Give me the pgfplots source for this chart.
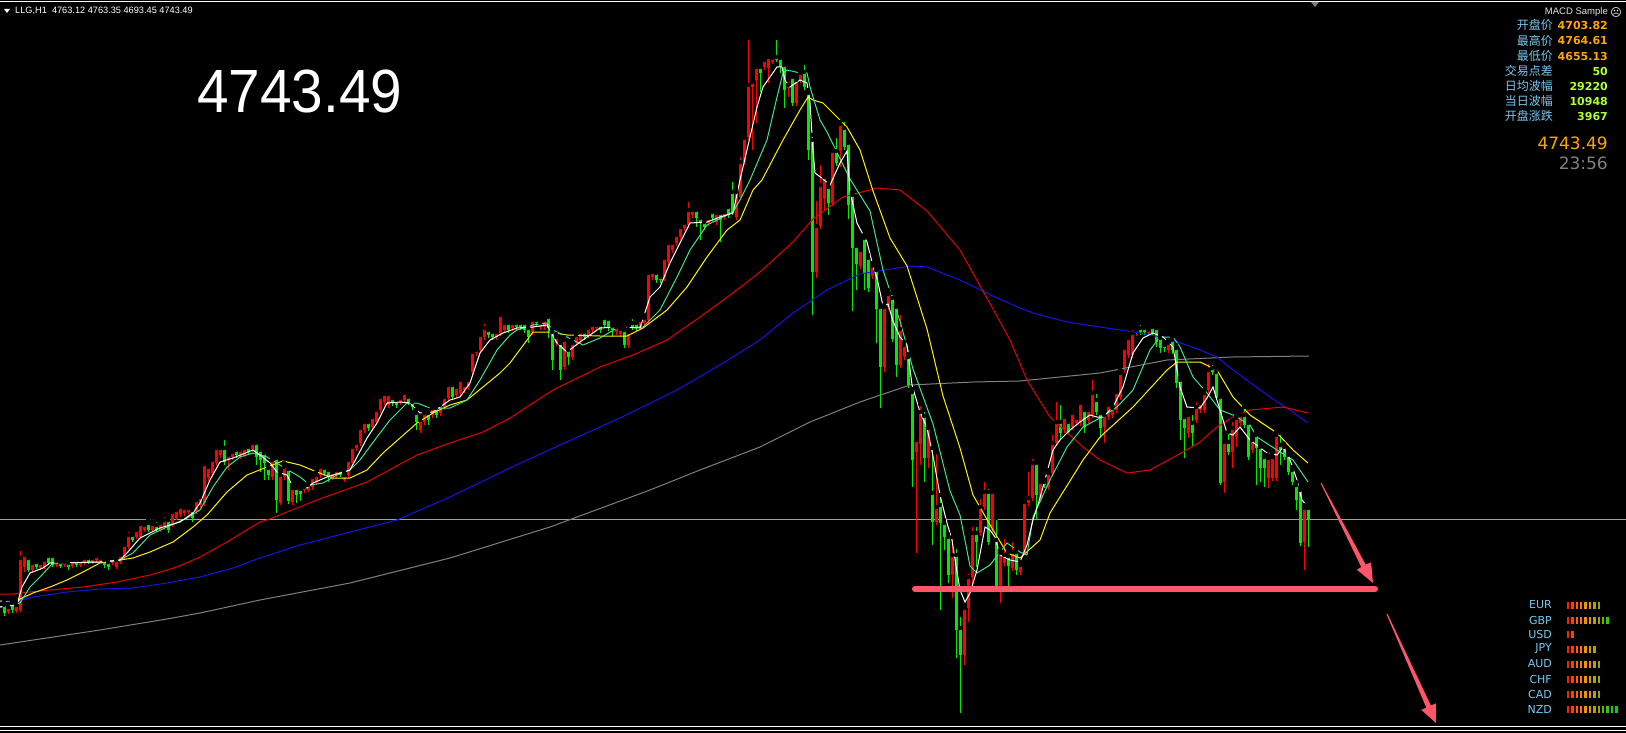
\documentclass[border=0pt]{standalone}
\usepackage{pgfplots}
\pgfplotsset{compat=1.18}
\usepackage{pgfplotstable}
\usepackage{fontspec}
\setmainfont{Liberation Sans}
\newfontfamily\cjk{Noto Sans CJK SC}
\newfontfamily\dv{DejaVu Sans}

\definecolor{cup}{RGB}{255,0,0}
\definecolor{cdn}{RGB}{0,235,0}
\definecolor{magreen}{RGB}{60,230,140}
\definecolor{mared}{RGB}{230,0,0}
\definecolor{mablue}{RGB}{20,20,230}
\definecolor{magray}{RGB}{128,128,128}
\definecolor{bidgray}{RGB}{160,160,160}
\definecolor{pinkline}{RGB}{255,85,105}
\definecolor{lblue}{RGB}{120,200,240}
\definecolor{vorange}{RGB}{255,165,0}
\definecolor{vgreen}{RGB}{173,255,47}

\pgfplotsset{
  colormap={strength}{rgb255=(255,30,0) rgb255=(255,90,0) rgb255=(255,140,0) rgb255=(200,160,0) rgb255=(130,175,0) rgb255=(50,200,0) rgb255=(0,215,0)},
  candle/.style 2 args={only marks, mark=none, forget plot,
    error bars/.cd, y dir=plus, y explicit, error mark=none,
    error bar style={line width=#2, draw=#1}},
}

% candles in screen pixels: x, wick top, body top, body bottom, wick bottom
% rising candles (red)
\pgfplotstableread{
x h bt bb l
8 604 607 612 614
16 602 605 611 613
20 549 558 610 612
24 552 555 567 572
32 560 563 570 573
40 561 563 568 570
44 557 560 567 569
56 559 561 565 567
64 560 562 565 567
72 557 560 566 568
80 558 560 565 567
84 556 558 563 565
92 555 558 562 564
96 554 556 560 562
100 556 558 561 563
112 556 558 563 565
116 557 560 567 569
120 552 555 562 564
124 541 545 557 560
128 530 535 547 549
136 527 530 537 539
140 522 524 537 539
144 522 525 530 532
152 521 524 530 532
160 520 523 530 532
164 515 520 527 530
172 509 512 525 527
176 507 510 518 520
180 504 507 515 517
184 505 508 513 516
188 505 508 512 514
196 497 500 512 514
200 494 497 505 508
204 460 464 503 506
208 464 467 478 481
212 457 460 473 476
216 445 448 463 466
220 446 448 455 458
228 452 455 460 470
232 449 452 457 460
240 447 450 457 459
244 445 448 455 457
252 440 443 449 452
272 457 460 477 480
280 472 475 503 505
284 463 467 477 480
292 485 488 502 505
304 485 487 490 493
308 483 485 490 492
312 474 477 487 490
316 472 475 482 485
320 464 467 475 478
332 469 472 477 480
336 467 470 475 478
344 472 475 480 482
348 457 460 475 478
352 444 447 463 466
356 440 443 448 451
360 425 428 443 446
364 419 422 430 433
372 414 417 427 430
376 407 410 422 424
380 394 397 410 413
384 391 394 402 405
388 391 394 405 408
400 395 398 402 405
404 390 393 400 403
420 417 420 430 433
424 410 413 422 425
432 405 408 415 418
440 402 405 413 416
444 394 397 407 410
448 382 385 398 401
456 384 387 395 398
460 377 380 393 396
464 382 385 390 393
468 377 380 387 390
472 349 352 372 375
476 347 350 353 356
480 332 335 350 353
484 322 328 337 340
496 329 332 337 340
500 312 315 333 336
504 320 323 330 333
512 320 323 328 331
532 317 320 332 335
540 320 323 327 330
544 317 320 327 330
556 334 337 343 346
564 337 340 367 370
572 340 343 357 360
576 332 335 343 346
580 329 332 340 343
588 325 328 335 338
592 322 325 330 333
596 322 325 328 331
616 324 327 332 335
620 326 329 334 337
628 329 332 345 348
640 317 320 327 330
644 315 318 323 326
648 270 273 320 323
652 268 272 277 280
664 255 258 278 281
668 240 243 262 265
672 240 243 250 253
676 232 235 243 246
680 224 227 237 240
684 220 223 228 231
688 200 210 225 228
692 207 210 215 218
708 215 218 223 226
716 210 213 222 225
724 209 212 217 220
736 189 192 217 220
740 155 162 197 200
744 135 138 162 165
748 38 85 137 140
752 79 82 87 150
756 63 67 80 123
764 57 60 67 70
768 54 57 68 83
772 55 58 62 64
788 80 85 88 97
796 77 80 103 106
800 70 73 80 83
816 199 226 272 278
820 163 185 226 229
824 174 177 199 211
832 148 151 203 206
840 122 124 151 167
860 247 250 266 269
872 263 266 276 279
884 305 307 367 372
888 290 294 307 310
900 313 329 365 368
904 342 345 357 360
916 437 440 452 553
920 404 412 444 465
928 425 428 458 468
936 452 507 522 525
952 537 555 575 598
964 605 608 655 665
968 572 577 608 622
972 525 533 577 587
980 497 507 533 536
984 480 492 507 510
992 489 492 530 533
1000 550 553 587 603
1004 537 555 563 566
1012 540 552 568 571
1020 562 565 572 575
1024 499 502 552 555
1028 470 498 503 506
1032 457 463 498 501
1040 479 482 498 501
1048 470 473 487 490
1052 433 443 473 476
1056 400 422 443 446
1064 414 417 430 433
1072 410 413 427 430
1076 415 418 423 426
1080 400 403 423 426
1088 407 410 420 423
1092 378 393 415 418
1104 412 415 427 443
1108 402 405 417 420
1112 405 408 415 418
1116 389 392 410 413
1120 370 373 397 400
1124 345 348 370 373
1128 335 338 355 358
1132 328 333 355 358
1136 327 330 333 336
1148 327 330 333 336
1168 340 343 350 353
1188 412 415 433 438
1196 400 407 420 423
1200 400 403 410 413
1204 390 393 410 413
1208 362 370 390 393
1224 439 442 482 493
1232 420 428 452 468
1236 415 418 437 447
1240 412 415 423 426
1252 437 440 450 453
1268 455 458 478 488
1272 454 457 478 481
1276 432 435 478 481
1304 505 508 542 570
}\upT

% falling candles (green)
\pgfplotstableread{
x h bt bb l
4 602 605 613 616
12 600 603 610 613
28 556 558 570 572
36 559 562 567 569
48 554 556 563 565
52 553 556 565 567
60 560 562 566 568
68 561 563 567 570
76 558 560 565 567
88 556 558 562 564
104 558 560 565 568
108 560 562 567 570
132 531 535 540 542
148 520 523 530 532
156 520 525 530 532
168 517 520 530 533
192 507 510 518 522
224 438 448 462 465
236 448 450 455 458
248 444 447 452 455
256 441 443 457 465
260 447 450 460 472
264 450 453 463 480
268 465 468 475 480
276 455 458 500 513
288 466 469 501 504
296 486 488 495 503
300 487 489 494 501
324 466 468 473 476
328 468 470 477 482
340 468 470 475 477
368 419 422 428 431
392 395 398 403 406
396 397 400 405 408
408 394 397 402 405
412 399 402 407 410
416 410 413 422 430
428 410 413 420 425
436 405 408 415 418
452 382 385 397 400
488 327 330 335 338
492 329 332 337 340
508 320 323 330 333
516 320 323 327 330
520 320 323 327 330
524 320 323 330 333
528 325 328 337 343
536 317 320 323 326
548 314 317 328 338
552 329 332 360 370
560 340 343 370 380
568 347 350 357 365
584 329 332 337 340
600 322 325 330 333
604 315 318 325 328
608 316 319 328 331
612 323 326 330 337
624 327 330 345 348
632 317 323 327 330
636 320 323 328 331
656 270 273 280 283
660 274 277 280 283
696 207 210 218 227
700 215 218 223 240
704 219 222 227 230
712 209 212 218 221
720 210 213 220 242
728 204 207 215 218
732 180 192 212 215
760 64 67 73 92
776 38 57 60 62
780 55 58 67 73
784 62 65 90 108
792 74 77 103 106
804 63 72 87 90
808 90 93 150 160
812 135 140 272 315
828 184 187 203 215
836 136 151 163 166
844 120 128 147 150
848 140 143 205 219
852 192 195 248 311
856 243 246 264 290
864 235 238 274 290
868 255 258 288 292
876 267 270 309 343
880 304 307 367 408
892 293 298 339 342
896 304 307 365 377
908 354 357 385 388
912 389 392 460 487
924 410 416 458 482
932 448 493 522 545
940 495 505 523 610
944 520 523 537 550
948 534 537 575 583
956 547 555 630 658
960 615 628 655 713
976 525 533 542 567
988 487 492 542 545
996 518 540 587 590
1008 552 556 566 587
1016 549 552 570 575
1036 460 463 495 520
1044 479 482 485 488
1060 403 422 433 440
1068 419 422 432 435
1084 407 410 427 433
1096 392 400 412 415
1100 410 413 428 438
1140 323 328 332 335
1144 325 328 332 335
1152 323 327 333 336
1156 325 328 342 347
1160 335 338 348 353
1164 342 345 348 352
1172 337 340 350 354
1176 345 348 383 388
1180 377 380 420 440
1184 414 417 428 458
1192 413 423 433 447
1212 363 368 372 375
1216 368 372 398 400
1220 394 397 483 485
1228 432 442 452 455
1244 407 415 425 428
1248 420 423 457 460
1256 432 435 448 485
1260 444 447 468 482
1264 454 457 468 487
1280 433 445 450 465
1284 444 447 457 460
1288 452 455 472 475
1292 467 470 482 485
1296 482 485 500 510
1300 487 490 543 546
1308 505 508 520 547
}\dnT

% currency strength bars: position in row, row y
\pgfplotstableread{
i y
0 605
1 605
2 605
3 605
4 605
5 605
6 605
7 605
0 620
1 620
2 620
3 620
4 620
5 620
6 620
7 620
8 620
9 620
0 634
1 634
0 649
1 649
2 649
3 649
4 649
5 649
6 649
0 664
1 664
2 664
3 664
4 664
5 664
6 664
7 664
0 679
1 679
2 679
3 679
4 679
5 679
6 679
7 679
0 694
1 694
2 694
3 694
4 694
5 694
6 694
7 694
0 709
1 709
2 709
3 709
4 709
5 709
6 709
7 709
8 709
9 709
10 709
11 709
}\curT

\begin{document}
\begin{tikzpicture}
\begin{axis}[
  scale only axis, width=1626pt, height=733pt,
  xmin=0, xmax=1626, ymin=0, ymax=733, y dir=reverse,
  axis line style={draw=none}, xtick=\empty, ytick=\empty,
  axis background/.style={fill=black},
  point meta min=0, point meta max=11,
]
% bid line
\addplot[bidgray, line width=1pt, forget plot] coordinates {(0,519) (1626,519)};

% candles
\addplot[candle={cup}{1pt}] table[x=x, y=h, y error plus expr=\thisrow{l}-\thisrow{h}] {\upT};
\addplot[candle={cup}{3pt}] table[x=x, y=bt, y error plus expr=\thisrow{bb}-\thisrow{bt}] {\upT};
\addplot[candle={cdn}{1pt}] table[x=x, y=h, y error plus expr=\thisrow{l}-\thisrow{h}] {\dnT};
\addplot[candle={cdn}{3pt}] table[x=x, y=bt, y error plus expr=\thisrow{bb}-\thisrow{bt}] {\dnT};

% moving averages
\addplot[magray, line width=1pt] coordinates {(0,645) (100,630) (167,619) (200,613) (260,600) (350,583) (450,558) (550,527) (650,490) (700,470) (760,447) (810,422) (860,402) (910,385) (973,382) (1020,381) (1050,378) (1100,373) (1167,360) (1233,357) (1309,356)};
\addplot[mablue, line width=1pt] coordinates {(0,601) (17,601) (33,597) (67,592) (100,589) (133,588) (167,583) (200,577) (233,568) (260,558) (300,545) (350,532) (397,520) (450,497) (510,468) (560,445) (620,418) (677,390) (720,365) (760,340) (793,313) (827,290) (860,274) (910,266) (927,267) (960,280) (993,296) (1020,308) (1033,313) (1067,322) (1100,327) (1133,332) (1167,338) (1200,350) (1217,357) (1233,370) (1270,397) (1290,410) (1308,423)};
\addplot[mared, line width=1pt] coordinates {(0,594) (13,594) (20,593) (50,590) (83,587) (117,582) (150,575) (177,567) (200,557) (227,542) (260,522) (267,520) (317,500) (367,482) (417,455) (450,443) (483,432) (510,418) (553,390) (600,367) (633,355) (667,340) (700,317) (733,293) (760,272) (793,242) (813,219) (843,197) (877,188) (900,190) (927,211) (960,250) (993,309) (1010,340) (1027,380) (1050,417) (1083,447) (1100,460) (1127,473) (1150,470) (1183,452) (1200,442) (1217,427) (1233,417) (1250,410) (1283,407) (1308,413)};
\addplot[yellow, line width=1pt] coordinates {(0,601) (17,603) (20,599) (33,593) (50,587) (67,580) (83,572) (100,563) (120,560) (133,558) (150,552) (173,542) (193,527) (207,515) (227,492) (247,475) (267,467) (283,461) (300,465) (317,472) (333,478) (350,478) (367,470) (383,453) (400,438) (417,423) (433,413) (450,405) (467,400) (483,387) (500,373) (510,363) (533,332) (550,332) (567,335) (600,336) (627,336) (643,328) (667,310) (687,287) (707,257) (727,230) (740,220) (753,190) (762,180) (783,140) (800,110) (808,97) (813,100) (823,103) (833,113) (847,127) (860,150) (873,191) (890,238) (907,266) (927,329) (943,396) (960,448) (973,495) (993,530) (1007,553) (1020,558) (1040,540) (1050,513) (1083,460) (1100,437) (1133,407) (1167,370) (1177,362) (1200,362) (1217,370) (1233,397) (1250,415) (1277,433) (1293,450) (1308,463)};
\addplot[magreen, line width=1pt] coordinates {(0,607) (20,603) (30,587) (40,577) (53,563) (100,562) (120,560) (133,553) (150,535) (167,527) (187,518) (200,510) (213,487) (227,467) (240,457) (253,453) (267,457) (283,467) (300,477) (310,485) (323,483) (337,475) (350,470) (360,460) (377,437) (390,420) (407,403) (417,403) (430,408) (450,408) (467,400) (480,380) (497,350) (510,335) (517,330) (533,325) (547,323) (553,330) (567,337) (583,345) (600,338) (617,328) (643,327) (660,310) (677,277) (690,250) (707,225) (733,212) (740,200) (750,180) (767,140) (777,97) (783,73) (787,70) (800,73) (807,73) (810,87) (820,120) (827,132) (850,179) (870,211) (883,270) (900,321) (913,369) (933,424) (950,491) (960,515) (970,566) (977,573) (990,565) (1007,543) (1020,552) (1027,555) (1033,517) (1050,480) (1067,447) (1083,427) (1100,418) (1117,407) (1133,390) (1150,350) (1160,337) (1173,337) (1180,347) (1193,377) (1207,393) (1220,410) (1233,415) (1250,425) (1257,437) (1277,450) (1293,460) (1308,482)};
\addplot[white, line width=1pt] coordinates {(0,607) (17,605) (22,587) (30,573) (43,568) (50,563) (100,562) (120,560) (127,553) (140,538) (160,528) (180,522) (193,513) (200,503) (210,480) (220,462) (233,458) (253,450) (260,455) (270,463) (277,472) (287,475) (293,487) (307,488) (313,483) (327,477) (340,473) (350,470) (357,457) (367,438) (377,423) (387,403) (400,402) (410,403) (420,413) (433,412) (450,400) (460,397) (470,383) (480,353) (490,340) (503,333) (517,328) (533,327) (547,325) (557,343) (567,352) (580,342) (590,335) (600,328) (617,327) (640,328) (650,297) (660,287) (670,263) (680,243) (690,223) (707,222) (720,217) (733,213) (740,180) (750,137) (757,107) (763,87) (777,67) (782,67) (785,80) (790,87) (800,80) (807,83) (810,103) (813,150) (815,173) (823,179) (830,185) (840,163) (847,151) (850,191) (857,223) (867,242) (873,266) (877,278) (883,306) (888,304) (893,321) (900,337) (907,345) (912,385) (920,412) (927,428) (933,456) (940,495) (947,523) (952,540) (957,572) (960,590) (965,602) (970,593) (977,570) (985,527) (990,530) (995,537) (1000,555) (1010,560) (1020,562) (1027,545) (1033,520) (1040,498) (1053,450) (1060,440) (1070,430) (1080,422) (1090,415) (1097,417) (1103,417) (1113,407) (1123,387) (1133,353) (1143,338) (1153,333) (1163,337) (1173,347) (1180,387) (1187,407) (1200,408) (1207,398) (1213,387) (1220,410) (1227,433) (1233,435) (1240,427) (1250,440) (1267,453) (1277,455) (1283,447) (1290,460) (1297,480) (1302,500) (1308,507)};

% currency strength panel
\addplot[scatter, only marks, mark=|, mark size=3.5pt, point meta=explicit,
  mark options={line width=2.4pt},
  scatter/use mapped color={draw=mapped color, fill=mapped color}]
  table[x expr=1568+4.4*\thisrow{i}, y=y, meta=i] {\curT};

% frame lines
\draw[white, line width=1pt] (axis cs:0,1.5) -- (axis cs:1626,1.5);
\draw[white, line width=1pt] (axis cs:0,726.5) -- (axis cs:1626,726.5);
\draw[white, line width=1pt] (axis cs:0,730.5) -- (axis cs:1626,730.5);
\fill[white] (axis cs:4,9) -- (axis cs:10,9) -- (axis cs:7,13) -- cycle;
\fill[magray] (axis cs:1311,2) -- (axis cs:1319,2) -- (axis cs:1315,7) -- cycle;

% drawn annotations
\draw[pinkline, line width=6pt, line cap=round] (axis cs:915,589) -- (axis cs:1375,589);
\fill[pinkline] (axis cs:1321.4,482.8) -- (axis cs:1365.7,564.6) -- (axis cs:1371.1,562.3) -- (axis cs:1373,583) -- (axis cs:1356.9,569.7) -- (axis cs:1361.3,567.0) -- (axis cs:1320.6,483.2) -- cycle;
\fill[pinkline] (axis cs:1387.5,613.8) -- (axis cs:1430.9,705.6) -- (axis cs:1435.9,703.3) -- (axis cs:1436,723) -- (axis cs:1421.3,709.9) -- (axis cs:1426.3,707.6) -- (axis cs:1386.5,614.2) -- cycle;

% texts
\node[anchor=west, inner sep=0pt, text=white, font=\fontsize{9.2}{10}\selectfont] at (axis cs:15,11) {LLG,H1\ \ 4763.12 4763.35 4693.45 4743.49};
\node[anchor=west, inner sep=0pt, text=white, font=\fontsize{61}{61}\selectfont, xscale=0.93] at (axis cs:197,92) {4743.49};

\node[anchor=east, inner sep=0pt, text=white!90!black, font=\fontsize{9.5}{10}\selectfont] at (axis cs:1608,12) {MACD Sample};
\node[inner sep=0pt, text=white, font=\dv\fontsize{11}{11}\selectfont] at (axis cs:1616,12) {☹};

\node[anchor=east, inner sep=0pt, text=lblue, font=\cjk\fontsize{12}{12}\selectfont] at (axis cs:1553,25) {开盘价};
\node[anchor=east, inner sep=0pt, text=lblue, font=\cjk\fontsize{12}{12}\selectfont] at (axis cs:1553,41) {最高价};
\node[anchor=east, inner sep=0pt, text=lblue, font=\cjk\fontsize{12}{12}\selectfont] at (axis cs:1553,56) {最低价};
\node[anchor=east, inner sep=0pt, text=lblue, font=\cjk\fontsize{12}{12}\selectfont] at (axis cs:1553,71) {交易点差};
\node[anchor=east, inner sep=0pt, text=lblue, font=\cjk\fontsize{12}{12}\selectfont] at (axis cs:1553,86) {日均波幅};
\node[anchor=east, inner sep=0pt, text=lblue, font=\cjk\fontsize{12}{12}\selectfont] at (axis cs:1553,101) {当日波幅};
\node[anchor=east, inner sep=0pt, text=lblue, font=\cjk\fontsize{12}{12}\selectfont] at (axis cs:1553,116) {开盘涨跌};

\node[anchor=east, inner sep=0pt, text=vorange, font=\dv\bfseries\fontsize{11}{11}\selectfont] at (axis cs:1608,25) {4703.82};
\node[anchor=east, inner sep=0pt, text=vorange, font=\dv\bfseries\fontsize{11}{11}\selectfont] at (axis cs:1608,41) {4764.61};
\node[anchor=east, inner sep=0pt, text=vorange, font=\dv\bfseries\fontsize{11}{11}\selectfont] at (axis cs:1608,56) {4655.13};
\node[anchor=east, inner sep=0pt, text=vgreen, font=\dv\bfseries\fontsize{11}{11}\selectfont] at (axis cs:1608,71) {50};
\node[anchor=east, inner sep=0pt, text=vgreen, font=\dv\bfseries\fontsize{11}{11}\selectfont] at (axis cs:1608,86) {29220};
\node[anchor=east, inner sep=0pt, text=vgreen, font=\dv\bfseries\fontsize{11}{11}\selectfont] at (axis cs:1608,101) {10948};
\node[anchor=east, inner sep=0pt, text=vgreen, font=\dv\bfseries\fontsize{11}{11}\selectfont] at (axis cs:1608,116) {3967};

\node[anchor=east, inner sep=0pt, text=vorange, font=\dv\fontsize{17}{17}\selectfont] at (axis cs:1608,143) {4743.49};
\node[anchor=east, inner sep=0pt, text=magray, font=\dv\fontsize{17}{17}\selectfont] at (axis cs:1608,163) {23:56};

\node[anchor=east, inner sep=0pt, text=lblue, font=\dv\fontsize{11}{11}\selectfont] at (axis cs:1552,605) {EUR};
\node[anchor=east, inner sep=0pt, text=lblue, font=\dv\fontsize{11}{11}\selectfont] at (axis cs:1552,620) {GBP};
\node[anchor=east, inner sep=0pt, text=lblue, font=\dv\fontsize{11}{11}\selectfont] at (axis cs:1552,634) {USD};
\node[anchor=east, inner sep=0pt, text=lblue, font=\dv\fontsize{11}{11}\selectfont] at (axis cs:1552,649) {JPY};
\node[anchor=east, inner sep=0pt, text=lblue, font=\dv\fontsize{11}{11}\selectfont] at (axis cs:1552,664) {AUD};
\node[anchor=east, inner sep=0pt, text=lblue, font=\dv\fontsize{11}{11}\selectfont] at (axis cs:1552,679) {CHF};
\node[anchor=east, inner sep=0pt, text=lblue, font=\dv\fontsize{11}{11}\selectfont] at (axis cs:1552,694) {CAD};
\node[anchor=east, inner sep=0pt, text=lblue, font=\dv\fontsize{11}{11}\selectfont] at (axis cs:1552,709) {NZD};
\end{axis}
\end{tikzpicture}
\end{document}
